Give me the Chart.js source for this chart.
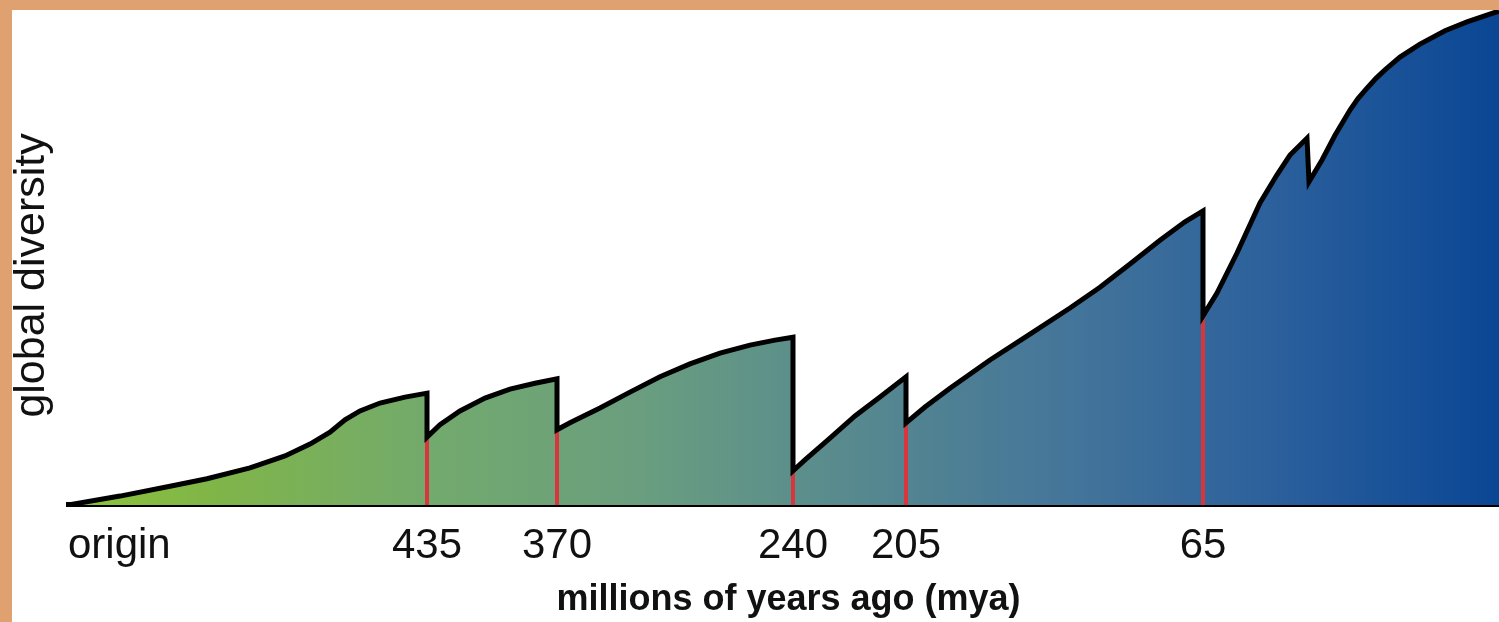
<!DOCTYPE html>
<html>
<head>
<meta charset="utf-8">
<script src="https://cdn.jsdelivr.net/npm/chart.js@4"></script>
<style>
body{margin:0;background:#E0A171;width:1499px;height:622px;overflow:hidden;}
#wrap{position:absolute;left:12px;top:10px;width:1487px;height:612px;background:#fff;}
</style>
</head>
<body>
<div id="wrap"><canvas id="diversityChart"></canvas></div>
<script>
// x = position along the (schematic) time axis, y = global diversity (0-100)
var xPos = [0,52,102,139,182,217,242,262,277,292,312,337,359,359,
  372,392,417,442,467,489,489,
  502,532,562,592,622,652,682,707,725,725,
  737,762,787,812,838,838,
  857,882,922,962,1002,1032,1062,1092,1117,1135,1135,
  1149,1169,1192,1209,1222,1239,1241,
  1254,1267,1282,1290,1299,1308,1317,1332,1352,1377,1399,1431];
var diversity = [0,1.8,3.8,5.3,7.5,9.9,12.3,14.7,17.2,19.0,20.6,21.8,22.6,13.7,
  16.2,19.0,21.6,23.4,24.6,25.5,15.2,
  16.6,19.6,22.8,25.9,28.5,30.7,32.3,33.3,33.9,6.9,
  9.1,13.5,18.0,21.8,25.9,16.6,
  19.8,23.6,29.3,34.5,39.8,44.0,48.7,53.5,57.2,59.4,38.2,
  42.8,50.9,61.0,66.7,70.7,74.1,65.3,
  69.7,74.7,79.8,82.1,84.2,86.2,87.9,90.5,93.1,95.8,97.6,99.8];

// mass extinctions
var eventPos = [359,489,725,838,1135];
var eventLow = [13.7,15.2,6.9,16.6,38.2];

var tickPos = [0,359,489,725,838,1135,1400];
var tickLabels = ["origin","435","370","240","205","65",""];

var curve = [];
for(let i=0;i<xPos.length;i++){
  curve.push({x:xPos[i],y:diversity[i]});
}

function fillGradient(context){
  const chart = context.chart;
  const area = chart.chartArea;
  if(!area) return null;
  const g = chart.ctx.createLinearGradient(area.left,0,area.right,0);
  g.addColorStop(0,"#8cc43a");
  g.addColorStop(0.1,"#80b548");
  g.addColorStop(0.25,"#73aa6c");
  g.addColorStop(0.4,"#6a9e7f");
  g.addColorStop(0.55,"#57898f");
  g.addColorStop(0.7,"#44759a");
  g.addColorStop(0.85,"#2a5f9c");
  g.addColorStop(1,"#0a4694");
  return g;
}

var datasets = [{
  data: curve,
  backgroundColor: fillGradient,
  borderWidth: 0,
  pointRadius: 0,
  fill: "origin",
  tension: 0,
  order: 3
},{
  data: curve,
  borderColor: "#000",
  borderWidth: 5,
  pointRadius: 0,
  fill: false,
  tension: 0,
  order: 1
}];
for(let i=0;i<eventPos.length;i++){
  datasets.push({
    data: [{x:eventPos[i],y:0},{x:eventPos[i],y:eventLow[i]}],
    borderColor: "#d8353c",
    borderWidth: 4,
    pointRadius: 0,
    fill: false,
    order: 2
  });
}

var fam = "'Liberation Sans', Arial, sans-serif";

new Chart("diversityChart", {
  type: "line",
  data: {datasets: datasets},
  options: {
    responsive: true,
    maintainAspectRatio: false,
    animation: false,
    events: [],
    layout: {padding: 0},
    plugins: {legend: {display: false}, tooltip: {enabled: false}},
    scales: {
      x: {
        type: "linear",
        min: 0,
        max: 1431,
        z: 1,
        grid: {display: false, drawTicks: false},
        border: {display: true, color: "#000", width: 5},
        afterBuildTicks: function(axis){
          axis.ticks = tickPos.map(function(v){ return {value: v}; });
        },
        ticks: {
          autoSkip: false,
          maxRotation: 0,
          align: "inner",
          padding: 20.5,
          color: "#111",
          font: {family: fam, size: 42, lineHeight: 1},
          callback: function(value){
            var i = tickPos.indexOf(value);
            return i >= 0 ? tickLabels[i] : "";
          }
        },
        title: {
          display: true,
          text: " millions of years ago (mya)",
          color: "#111",
          font: {family: fam, size: 36, weight: "bold", lineHeight: 0.667},
          padding: {top: 0, bottom: 10}
        }
      },
      y: {
        min: 0,
        max: 100,
        grid: {display: false, drawTicks: false},
        border: {display: false},
        ticks: {display: false},
        title: {
          display: true,
          text: "global diversity   ",
          color: "#111",
          font: {family: fam, size: 43, lineHeight: 0.8},
          padding: {top: 3, bottom: 18.6}
        }
      }
    }
  }
});
</script>
</body>
</html>
